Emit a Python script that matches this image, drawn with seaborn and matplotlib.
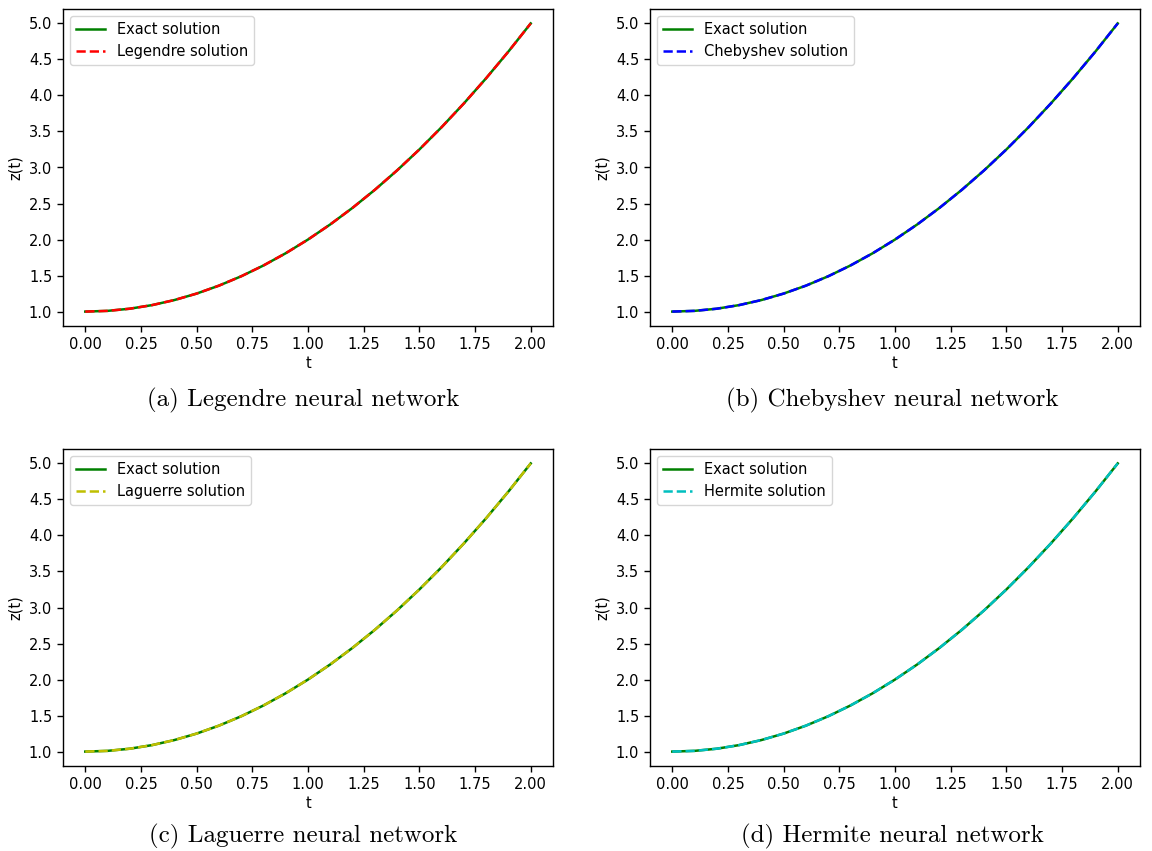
import matplotlib
matplotlib.use("Agg")
import matplotlib.pyplot as plt
import seaborn as sns
import pandas as pd

# Time grid and solution values z(t)
t_values = [0.0, 0.1, 0.2, 0.3, 0.4, 0.5, 0.6, 0.7, 0.8, 0.9, 1.0,
            1.1, 1.2, 1.3, 1.4, 1.5, 1.6, 1.7, 1.8, 1.9, 2.0]
exact_z = [1.00, 1.01, 1.04, 1.09, 1.16, 1.25, 1.36, 1.49, 1.64, 1.81, 2.00,
           2.21, 2.44, 2.69, 2.96, 3.25, 3.56, 3.89, 4.24, 4.61, 5.00]
legendre_z = [1.00, 1.01, 1.04, 1.09, 1.16, 1.25, 1.36, 1.49, 1.64, 1.81, 2.00,
              2.21, 2.44, 2.69, 2.96, 3.25, 3.56, 3.89, 4.24, 4.61, 5.00]
chebyshev_z = [1.00, 1.01, 1.04, 1.09, 1.16, 1.25, 1.36, 1.49, 1.64, 1.81, 2.00,
               2.21, 2.44, 2.69, 2.96, 3.25, 3.56, 3.89, 4.24, 4.61, 5.00]
laguerre_z = [1.00, 1.01, 1.04, 1.09, 1.16, 1.25, 1.36, 1.49, 1.64, 1.81, 2.00,
              2.21, 2.44, 2.69, 2.96, 3.25, 3.56, 3.89, 4.24, 4.61, 5.00]
hermite_z = [1.00, 1.01, 1.04, 1.09, 1.16, 1.25, 1.36, 1.49, 1.64, 1.81, 2.00,
             2.21, 2.44, 2.69, 2.96, 3.25, 3.56, 3.89, 4.24, 4.61, 5.00]

methods = ["Legendre", "Chebyshev", "Laguerre", "Hermite"]
approx = [legendre_z, chebyshev_z, laguerre_z, hermite_z]
colors = ["r", "b", "y", "c"]
captions = ["(a) Legendre neural network", "(b) Chebyshev neural network",
            "(c) Laguerre neural network", "(d) Hermite neural network"]

plt.rcParams.update({
    "font.size": 10.5,
    "axes.unicode_minus": False,
    "axes.linewidth": 1.0,
    "xtick.major.size": 4.2,
    "ytick.major.size": 4.2,
    "xtick.major.width": 1.0,
    "ytick.major.width": 1.0,
})

W, H = 1152, 851
fig = plt.figure(figsize=(W / 100, H / 100), dpi=100)

# axes boxes in pixels: (left, top, right, bottom)
boxes = [(63, 9, 553, 326), (650, 9, 1140, 326),
         (63, 449, 553, 766), (650, 449, 1140, 766)]
caption_x = [303, 892, 303, 892]
caption_y = [400, 400, 836, 836]

for i, (name, z, c, cap) in enumerate(zip(methods, approx, colors, captions)):
    l, tp, r, b = boxes[i]
    ax = fig.add_axes([l / W, 1 - b / H, (r - l) / W, (b - tp) / H])
    df = pd.DataFrame({"t": t_values, "exact": exact_z, "approx": z})
    sns.lineplot(data=df, x="t", y="exact", ax=ax, color="g",
                 linewidth=1.8, label="Exact solution", sort=False)
    sns.lineplot(data=df, x="t", y="approx", ax=ax, color=c,
                 linewidth=1.8, linestyle="--", label=f"{name} solution", sort=False)
    ax.set_xlabel("t", labelpad=3)
    ax.set_ylabel("z(t)", labelpad=4)
    ax.set_xticks([0.0, 0.25, 0.5, 0.75, 1.0, 1.25, 1.5, 1.75, 2.0])
    ax.set_xticklabels(["0.00", "0.25", "0.50", "0.75", "1.00", "1.25",
                        "1.50", "1.75", "2.00"])
    ax.set_yticks([1.0, 1.5, 2.0, 2.5, 3.0, 3.5, 4.0, 4.5, 5.0])
    ax.legend(loc="upper left")
    fig.text(caption_x[i] / W, 1 - caption_y[i] / H, cap,
             ha="center", va="center", fontsize=18, family="cmr10")

fig.savefig("out.png", dpi=100)
